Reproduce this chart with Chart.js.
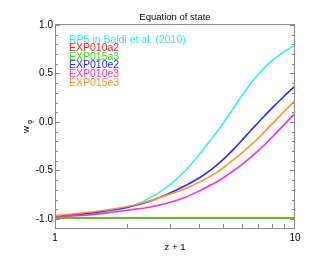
<!DOCTYPE html>
<html>
<head>
<meta charset="utf-8">
<script src="https://cdn.jsdelivr.net/npm/chart.js@4"></script>
<style>
  body { margin: 0; background: #fff; }
  #wrap { width: 319px; height: 266px; }
</style>
</head>
<body>
<div id="wrap"><canvas id="c" width="319" height="266"></canvas></div>
<script>
// z + 1 sample points
const zp1 = [1, 1.5, 2, 2.5, 3, 3.5, 4, 4.5, 5, 5.5, 6, 6.5, 7, 7.5, 8, 9, 10];

// w_phi for each model
const rp5      = [-0.975, -0.94, -0.885, -0.78, -0.65, -0.5, -0.33, -0.17, -0.02, 0.13, 0.27, 0.39, 0.485, 0.565, 0.63, 0.725, 0.79];
const exp010a2 = [-0.99, -0.99, -0.99, -0.99, -0.99, -0.99, -0.99, -0.99, -0.99, -0.99, -0.99, -0.99, -0.99, -0.99, -0.99, -0.99, -0.99];
const exp015a3 = [-0.99, -0.99, -0.99, -0.99, -0.99, -0.99, -0.99, -0.99, -0.99, -0.99, -0.99, -0.99, -0.99, -0.99, -0.99, -0.99, -0.99];
const exp010e2 = [-0.975, -0.93, -0.88, -0.815, -0.735, -0.655, -0.575, -0.485, -0.39, -0.29, -0.19, -0.095, -0.01, 0.07, 0.14, 0.265, 0.37];
const exp010e3 = [-0.98, -0.95, -0.91, -0.876, -0.83, -0.775, -0.71, -0.645, -0.58, -0.51, -0.44, -0.37, -0.30, -0.23, -0.16, -0.03, 0.09];
const exp015e3 = [-0.965, -0.92, -0.872, -0.81, -0.745, -0.685, -0.62, -0.55, -0.475, -0.395, -0.32, -0.245, -0.17, -0.095, -0.025, 0.105, 0.22];

const names  = ["RP5 in Baldi et al. (2010)", "EXP010a2", "EXP015a3", "EXP010e2", "EXP010e3", "EXP015e3"];
const series = [rp5, exp010a2, exp015a3, exp010e2, exp010e3, exp015e3];
const colors = ["#33f0f0", "#ff2020", "#33dd11", "#2828ff", "#ff30d0", "#ff9030"];

const yMajor = [-1.0, -0.5, 0.0, 0.5, 1.0];
const xLabels = [1, 10];

const FONT = "'Liberation Sans', Arial, sans-serif";

const decor = {
  id: "decor",
  afterDraw(chart) {
    const ctx = chart.ctx, a = chart.chartArea;
    const xs = chart.scales.x, ys = chart.scales.y;
    ctx.save();
    // frame
    ctx.strokeStyle = "#8a8a8a";
    ctx.lineWidth = 1;
    ctx.strokeRect(a.left + 0.5, a.top + 0.5, a.right - a.left - 1, a.bottom - a.top);
    // y ticks on both sides, minor every 0.1
    ctx.beginPath();
    for (let i = -10; i <= 10; i++) {
      const v = i / 10;
      const y = Math.round(ys.getPixelForValue(v)) + 0.5;
      const len = (i % 5 === 0) ? 5 : 3;
      ctx.moveTo(a.left, y); ctx.lineTo(a.left + len, y);
      ctx.moveTo(a.right, y); ctx.lineTo(a.right - len, y);
    }
    // x minor ticks on the bottom
    for (let v = 2; v <= 9; v++) {
      const x = Math.round(xs.getPixelForValue(v)) + 0.5;
      ctx.moveTo(x, a.bottom); ctx.lineTo(x, a.bottom - 4);
    }
    ctx.stroke();

    // title
    ctx.fillStyle = "#000";
    ctx.font = "9.5px " + FONT;
    ctx.textAlign = "center";
    ctx.textBaseline = "alphabetic";
    ctx.fillText("Equation of state", (a.left + a.right) / 2, 20);
    // x title
    ctx.fillText("z + 1", (a.left + a.right) / 2, 250);

    // y title w_phi
    ctx.save();
    ctx.translate(29, 129);
    ctx.rotate(-Math.PI / 2);
    ctx.textAlign = "left";
    ctx.font = "9.5px " + FONT;
    ctx.fillText("w", -4, 0);
    ctx.font = "6.5px " + FONT;
    ctx.fillText("\u03c6", 5, 3);
    ctx.restore();

    // legend as coloured text
    ctx.font = "10.5px " + FONT;
    ctx.textAlign = "left";
    names.forEach((n, i) => {
      ctx.fillStyle = colors[i];
      ctx.fillText(n, 69, 42.5 + i * 8.6);
    });
    ctx.restore();
  }
};

new Chart(document.getElementById("c"), {
  type: "line",
  data: {
    datasets: series.map((s, i) => ({
      label: names[i],
      data: zp1.map((x, j) => ({ x: x, y: s[j] })),
      borderColor: colors[i],
      borderWidth: 1.6,
      pointRadius: 0,
      cubicInterpolationMode: "monotone",
      order: series.length - i
    }))
  },
  options: {
    responsive: false,
    animation: false,
    layout: { padding: { left: 0, right: 24, top: 24, bottom: 0 } },
    plugins: { legend: { display: false }, title: { display: false }, tooltip: { enabled: false } },
    scales: {
      x: {
        type: "logarithmic",
        min: 1, max: 10,
        grid: { display: false, drawTicks: false },
        border: { display: false },
        afterBuildTicks: s => { s.ticks = xLabels.map(v => ({ value: v })); },
        afterFit: s => { s.height = 38; },
        ticks: {
          autoSkip: false, maxRotation: 0, padding: 4,
          color: "#000", font: { family: FONT, size: 10 },
          callback: v => String(v)
        }
      },
      y: {
        min: -1.093, max: 1.01,
        grid: { display: false, drawTicks: false },
        border: { display: false },
        afterBuildTicks: s => { s.ticks = yMajor.map(v => ({ value: v })); },
        afterFit: s => { s.width = 55; },
        ticks: {
          padding: 2,
          color: "#000", font: { family: FONT, size: 10 },
          callback: v => v.toFixed(1)
        }
      }
    }
  },
  plugins: [decor]
});
</script>
</body>
</html>
